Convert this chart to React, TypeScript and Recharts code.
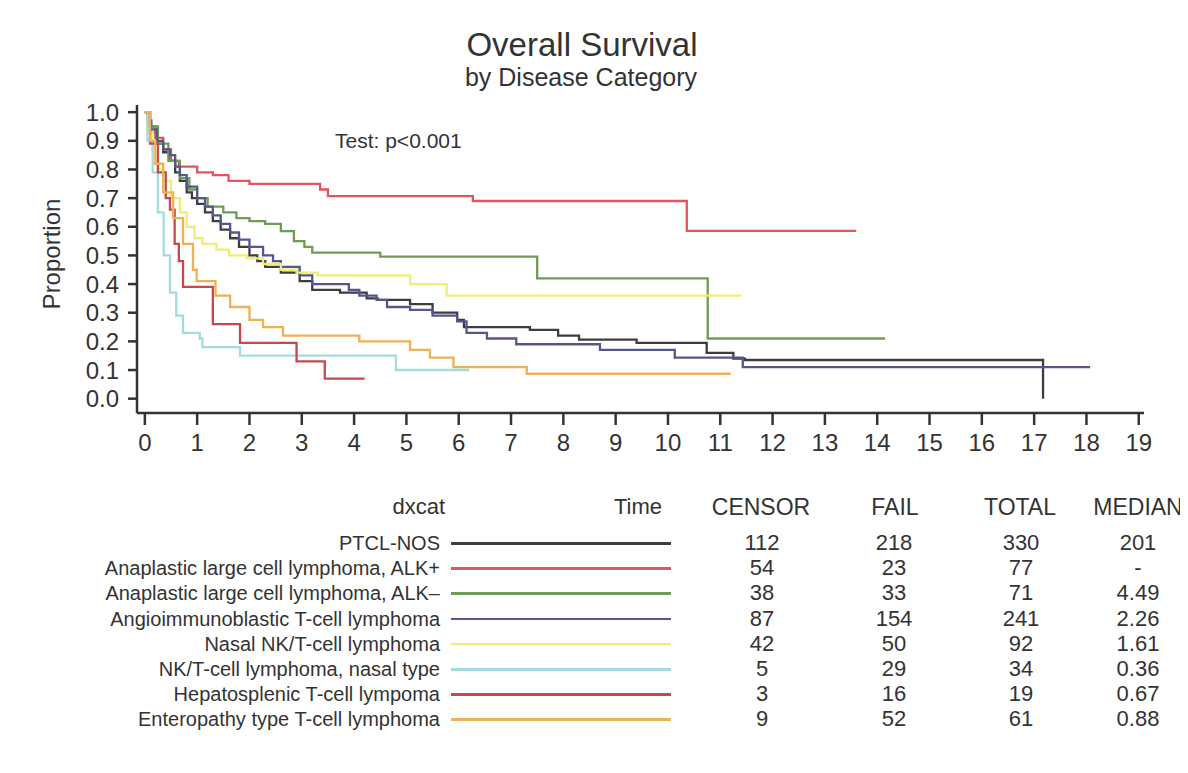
import React from "react"
import { LineChart, Line, XAxis, YAxis } from "recharts"

// survival curves: [time in years, proportion surviving]
const ptclNos = [
  [0, 1], [0.05, 0.97], [0.12, 0.93], [0.23, 0.89], [0.35, 0.86], [0.48, 0.83], [0.58, 0.79],
  [0.67, 0.76], [0.8, 0.72], [0.9, 0.7], [1.0, 0.68], [1.15, 0.65], [1.3, 0.62], [1.45, 0.59],
  [1.63, 0.56], [1.8, 0.53], [2.0, 0.5], [2.15, 0.48], [2.3, 0.46], [2.6, 0.44], [2.96, 0.41],
  [3.2, 0.38], [3.73, 0.37], [4.24, 0.35], [4.45, 0.345], [5.07, 0.33], [5.5, 0.3], [5.97, 0.275],
  [6.1, 0.25], [7.36, 0.24], [7.9, 0.22], [8.3, 0.206], [9.4, 0.195], [10.74, 0.16], [11.25, 0.14],
  [11.47, 0.135], [17.17, 0],
]
const alkPos = [
  [0, 1], [0.08, 0.95], [0.2, 0.91], [0.35, 0.87], [0.5, 0.83], [0.65, 0.81], [1.0, 0.79],
  [1.3, 0.78], [1.6, 0.76], [2.0, 0.75], [3.35, 0.73], [3.5, 0.707], [6.27, 0.69], [10.36, 0.586],
  [13.6, 0.586],
]
const alkNeg = [
  [0, 1], [0.1, 0.95], [0.25, 0.89], [0.45, 0.83], [0.67, 0.77], [0.85, 0.73], [1.0, 0.7],
  [1.2, 0.67], [1.5, 0.65], [1.75, 0.63], [2.0, 0.62], [2.3, 0.61], [2.6, 0.585], [2.85, 0.55],
  [3.05, 0.53], [3.2, 0.51], [4.5, 0.496], [7.5, 0.42], [10.76, 0.21], [14.15, 0.21],
]
const aitl = [
  [0, 1], [0.05, 0.97], [0.12, 0.94], [0.23, 0.9], [0.35, 0.87], [0.48, 0.85], [0.58, 0.81],
  [0.67, 0.78], [0.8, 0.74], [1.0, 0.7], [1.15, 0.67], [1.3, 0.64], [1.45, 0.61], [1.63, 0.58],
  [1.8, 0.555], [2.0, 0.53], [2.26, 0.5], [2.45, 0.48], [2.6, 0.46], [2.96, 0.43], [3.2, 0.4],
  [3.9, 0.38], [4.1, 0.36], [4.43, 0.345], [4.63, 0.32], [5.07, 0.31], [5.5, 0.29], [5.97, 0.27],
  [6.15, 0.23], [6.54, 0.21], [7.1, 0.19], [8.7, 0.17], [10.13, 0.143], [11.43, 0.11], [18.07, 0.11],
]
const nasalNkt = [
  [0, 1], [0.05, 0.93], [0.15, 0.86], [0.25, 0.8], [0.35, 0.76], [0.5, 0.7], [0.67, 0.65],
  [0.8, 0.6], [0.95, 0.56], [1.1, 0.54], [1.37, 0.52], [1.61, 0.5], [1.95, 0.49], [2.26, 0.47],
  [2.6, 0.45], [2.9, 0.44], [3.3, 0.43], [5.07, 0.4], [5.77, 0.36], [11.4, 0.36],
]
const nktNasalType = [
  [0, 1], [0.05, 0.9], [0.15, 0.79], [0.25, 0.65], [0.36, 0.5], [0.48, 0.37], [0.6, 0.29],
  [0.73, 0.23], [1.05, 0.21], [1.1, 0.18], [1.82, 0.15], [4.8, 0.1], [6.2, 0.1],
]
const hepatosplenic = [
  [0, 1], [0.1, 0.89], [0.25, 0.79], [0.4, 0.7], [0.48, 0.66], [0.57, 0.54], [0.65, 0.48],
  [0.73, 0.39], [1.3, 0.26], [1.82, 0.195], [2.9, 0.13], [3.44, 0.07], [4.2, 0.07],
]
const enteropathy = [
  [0, 1], [0.1, 0.9], [0.2, 0.82], [0.35, 0.72], [0.54, 0.63], [0.73, 0.54], [0.92, 0.45],
  [0.99, 0.41], [1.35, 0.36], [1.63, 0.32], [2.0, 0.275], [2.26, 0.25], [2.64, 0.22], [4.1, 0.2],
  [5.07, 0.17], [5.45, 0.143], [5.9, 0.11], [7.3, 0.087], [11.2, 0.087],
]

const xTicks = [0, 1, 2, 3, 4, 5, 6, 7, 8, 9, 10, 11, 12, 13, 14, 15, 16, 17, 18, 19]
const yTicks = [0, 0.1, 0.2, 0.3, 0.4, 0.5, 0.6, 0.7, 0.8, 0.9, 1.0]

// table under the plot
const categories = [
  "PTCL-NOS",
  "Anaplastic large cell lymphoma, ALK+",
  "Anaplastic large cell lymphoma, ALK\u2013",
  "Angioimmunoblastic T-cell lymphoma",
  "Nasal NK/T-cell lymphoma",
  "NK/T-cell lymphoma, nasal type",
  "Hepatosplenic T-cell lympoma",
  "Enteropathy type T-cell lymphoma",
]
const censor = ["112", "54", "38", "87", "42", "5", "3", "9"]
const fail = ["218", "23", "33", "154", "50", "29", "16", "52"]
const total = ["330", "77", "71", "241", "92", "34", "19", "61"]
const median = ["201", "-", "4.49", "2.26", "1.61", "0.36", "0.67", "0.88"]

const curves = [ptclNos, alkPos, alkNeg, aitl, nasalNkt, nktNasalType, hepatosplenic, enteropathy]
const colors = ["#3d3d40", "#e2545e", "#6e9c58", "#55578c", "#f0ee72", "#a4dbe0", "#c24a4e", "#f0b055"]

const FONT = '"Liberation Sans", Arial, Helvetica, sans-serif'
const INK = "#333"

const W = 1172
const H = 757

function Txt({ x, y, size, align = "left", children, style }: any) {
  const pos: any = { position: "absolute", top: y - size / 2, lineHeight: `${size}px`, fontSize: size, whiteSpace: "nowrap" }
  if (align === "right") pos.right = W - x
  else if (align === "center") {
    pos.left = x - 200
    pos.width = 400
    pos.textAlign = "center"
  } else pos.left = x
  return <div style={{ ...pos, ...style }}>{children}</div>
}

export default function App() {
  const rowY = (i: number) => 535 + i * 25.2
  return (
    <div style={{ position: "relative", width: W, height: H, background: "#fff", fontFamily: FONT, color: INK }}>
      <LineChart width={W} height={H} margin={{ top: 97, right: 36, bottom: 312, left: 49 }}>
        <XAxis
          type="number"
          dataKey="t"
          domain={[-0.15, 19.1]}
          ticks={xTicks}
          interval={0}
          allowDataOverflow
          height={40}
          tickSize={12}
          tickMargin={9}
          stroke={INK}
          strokeWidth={2.5}
          tick={{ fill: INK, fontSize: 24, fontFamily: FONT }}
        />
        <YAxis
          type="number"
          dataKey="p"
          domain={[-0.05, 1.025]}
          ticks={yTicks}
          interval={0}
          allowDataOverflow
          width={80}
          tickSize={9}
          tickMargin={9}
          stroke={INK}
          strokeWidth={2.5}
          tickFormatter={(v: number) => v.toFixed(1)}
          tick={{ fill: INK, fontSize: 24, fontFamily: FONT }}
        />
        {curves.map((c, i) => (
          <Line
            key={categories[i]}
            data={c.map(([t, p]) => ({ t, p }))}
            dataKey="p"
            type="stepAfter"
            stroke={colors[i]}
            strokeWidth={2.3}
            dot={false}
            activeDot={false}
            isAnimationActive={false}
          />
        ))}
      </LineChart>

      <Txt x={574} y={36} size={33} align="center">Overall Survival</Txt>
      <Txt x={573} y={69} size={25} align="center">by Disease Category</Txt>
      <Txt x={327} y={132} size={21}>Test: p&lt;0.001</Txt>
      <div
        style={{
          position: "absolute", left: 44 - 100, top: 246 - 12, width: 200, textAlign: "center",
          fontSize: 24, lineHeight: "24px", transform: "rotate(-90deg)",
        }}
      >
        Proportion
      </div>

      <Txt x={437} y={499} size={22} align="right">dxcat</Txt>
      <Txt x={654} y={499} size={22} align="right">Time</Txt>
      <Txt x={753} y={499} size={23} align="center">CENSOR</Txt>
      <Txt x={887} y={499} size={23} align="center">FAIL</Txt>
      <Txt x={1012} y={499} size={23} align="center">TOTAL</Txt>
      <Txt x={1130} y={499} size={23} align="center">MEDIAN</Txt>

      {categories.map((name, i) => (
        <React.Fragment key={name}>
          <Txt x={432} y={rowY(i)} size={20} align="right">{name}</Txt>
          <div style={{ position: "absolute", left: 443, width: 220, top: rowY(i) - 1, height: 2.5, background: colors[i] }} />
          <Txt x={754} y={rowY(i)} size={22} align="center">{censor[i]}</Txt>
          <Txt x={886} y={rowY(i)} size={22} align="center">{fail[i]}</Txt>
          <Txt x={1013} y={rowY(i)} size={22} align="center">{total[i]}</Txt>
          <Txt x={1130} y={rowY(i)} size={22} align="center">{median[i]}</Txt>
        </React.Fragment>
      ))}
    </div>
  )
}
